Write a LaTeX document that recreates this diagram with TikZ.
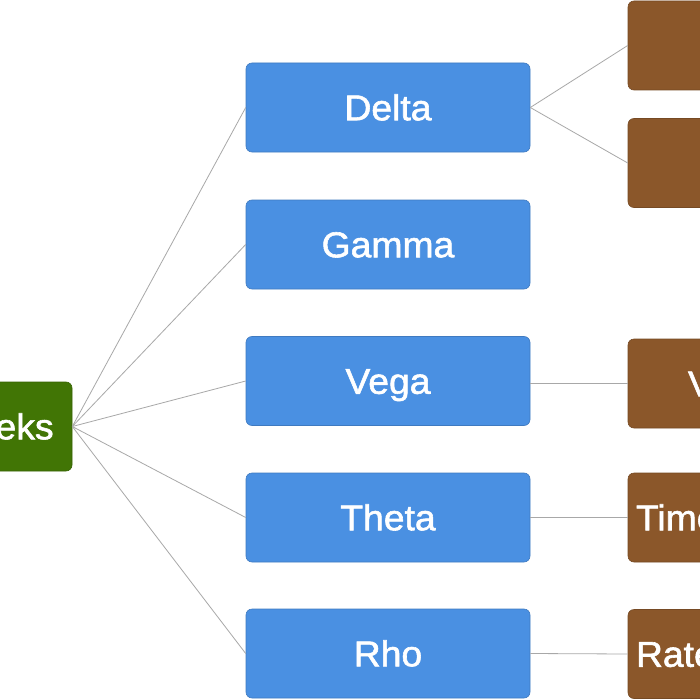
\documentclass[tikz,border=0pt]{standalone}
\usepackage{fontspec}
\setmainfont{Liberation Sans}[FakeBold=1.6, FakeStretch=1.04]
\definecolor{blueb}{HTML}{4A90E2}
\definecolor{greenb}{HTML}{417505}
\definecolor{brownb}{HTML}{8B572A}
\definecolor{linegray}{HTML}{A8A8A8}
\begin{document}
\begin{tikzpicture}[x=1bp,y=-1bp,
  box/.style={rounded corners=6bp, minimum width=284bp, minimum height=89bp,
    inner sep=0pt, text=white, font=\fontsize{36}{40}\selectfont,
    text height=25.5bp, text depth=0bp, line width=0.6bp},
  bluebox/.style={box, fill=blueb, draw=blueb!85!black},
  greenbox/.style={box, fill=greenb, draw=greenb!85!black},
  brownbox/.style={box, fill=brownb, draw=brownb!85!black, text width=268bp, align=left},
  link/.style={draw=linegray, line width=0.8bp}]
\useasboundingbox (0,0) rectangle (700,700);
\clip (0,0) rectangle (700,700);
\fill[white] (0,0) rectangle (700,700);
\node[greenbox, minimum width=157bp] (root) at (-6.5,426.5) {Greeks};
\node[bluebox] (delta) at (388,107.5) {Delta};
\node[bluebox] (gamma) at (388,244.5) {Gamma};
\node[bluebox] (vega) at (388,381) {Vega};
\node[bluebox] (theta) at (388,517.5) {Theta};
\node[bluebox] (rho) at (388,653.5) {Rho};
\node[brownbox] (d1) at (770,45.5) {};
\node[brownbox] (d2) at (770,163) {};
\node[brownbox] (v1) at (770,383.5) {\hspace*{52bp}Volatility};
\node[brownbox] (t1) at (770,517.5) {Time Decay};
\node[brownbox] (r1) at (770,654) {Rate Sensitivity};
\foreach \c in {delta,gamma,vega,theta,rho}
  \draw[link] (root.east) -- (\c.west);
\draw[link] (delta.east) -- (d1.west);
\draw[link] (delta.east) -- (d2.west);
\draw[link] (v1.west -| vega.east) -- (v1.west);
\draw[link] (theta.east) -- (t1.west);
\draw[link] (rho.east) -- (r1.west);
\end{tikzpicture}
\end{document}
